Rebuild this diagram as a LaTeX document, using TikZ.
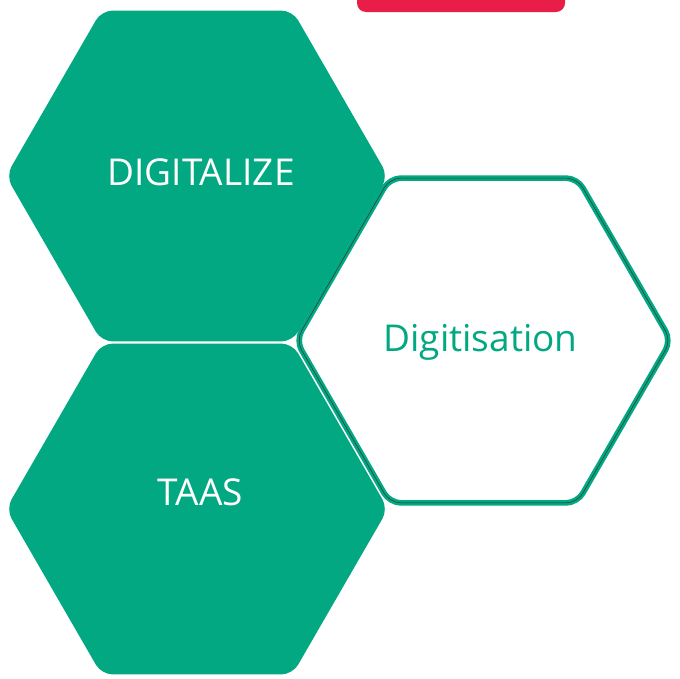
\documentclass[tikz,border=0pt]{standalone}
\usepackage{fontspec}
\newfontfamily\hexfont{Open Sans}
\usetikzlibrary{shapes.geometric}

\definecolor{hexgreen}{HTML}{02A882}
\definecolor{tabred}{HTML}{E81E48}

\tikzset{
    hexagon/.style={regular polygon, regular polygon sides=6, inner sep=0pt,
            rounded corners=11pt},
    hexsolid/.style={hexagon, fill=hexgreen, minimum size=382pt},
    hexopen/.style={hexagon, fill=white, draw=hexgreen, double=black!80,
            line width=2.6pt, double distance=0.5pt, minimum size=375pt},
    hexlabel/.style={anchor=base, inner sep=0pt, font=\hexfont\fontsize{37}{44}\selectfont}
}

\begin{document}
\begin{tikzpicture}[x=1pt, y=-1pt]
    \useasboundingbox (0,0) rectangle (680,678);
    % tab peeking in at the top
    \fill[tabred, rounded corners=9pt] (357,-20) -- (357,12) -- (565,12) -- (565,-20);
    \node[hexsolid] (tophex) at (197,176) {};
    \node[hexsolid] (bottomhex) at (197,509) {};
    \node[hexopen] (righthex) at (483.5,340.5) {};
    % captions
    \node[hexlabel, text=white] (digitalize) at (201,185) {DIGITALIZE};
    \node[hexlabel, text=white] (taas) at (200.5,505.5) {TAAS};
    \node[hexlabel, text=hexgreen] (digitisation) at (480.5,351.5) {Digitisation};
\end{tikzpicture}
\end{document}
